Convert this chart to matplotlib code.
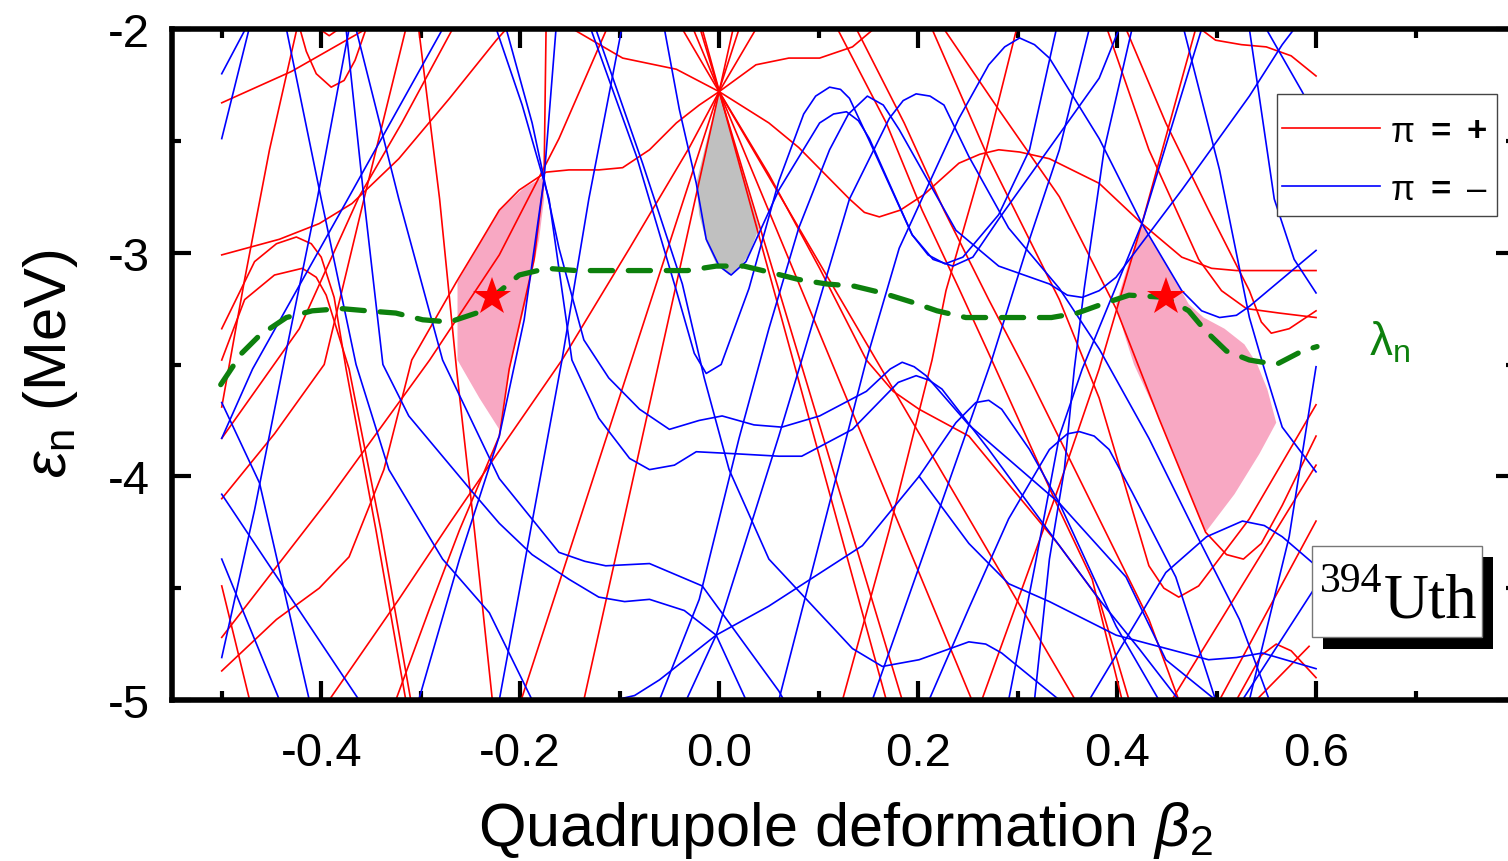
import matplotlib
matplotlib.use("Agg")
import matplotlib.pyplot as plt
from matplotlib.patches import Polygon, Rectangle
from matplotlib.lines import Line2D
from matplotlib.ticker import FixedLocator, FuncFormatter

plt.rcParams["font.family"] = ["Liberation Sans", "DejaVu Sans"]
plt.rcParams["mathtext.fontset"] = "custom"
plt.rcParams["mathtext.rm"] = "Liberation Sans"
plt.rcParams["mathtext.it"] = "Liberation Sans:italic"
plt.rcParams["axes.unicode_minus"] = False

# ── Neutron single-particle levels: (beta2, e_n [MeV]) ──────────────────
# positive parity
levels_pos = [
    [(-0.500, -2.33), (-0.430, -2.19), (-0.355, -2.00)],
    [(-0.500, -3.69), (-0.477, -3.12), (-0.452, -2.54), (-0.424, -1.99)],
    [(-0.422, -1.99), (-0.415, -2.10), (-0.405, -2.20), (-0.390, -2.26), (-0.377, -2.23),
     (-0.366, -2.14), (-0.355, -2.00)],
    [(-0.405, -1.99), (-0.392, -2.03), (-0.379, -1.99)],
    [(-0.500, -3.01), (-0.442, -2.94), (-0.402, -2.87), (-0.369, -2.78), (-0.322, -2.58),
     (-0.271, -2.31), (-0.224, -2.05), (-0.214, -2.00)],
    [(-0.500, -3.34), (-0.467, -3.04), (-0.445, -2.96), (-0.425, -2.93), (-0.410, -2.96),
     (-0.400, -3.02), (-0.387, -3.20), (-0.375, -3.52), (-0.345, -4.24), (-0.315, -5.00)],
    [(-0.500, -3.48), (-0.477, -3.21), (-0.447, -3.10), (-0.419, -3.07), (-0.405, -3.11),
     (-0.395, -3.19), (-0.372, -3.52), (-0.340, -4.24), (-0.310, -5.00)],
    [(-0.315, -2.00), (-0.357, -2.76), (-0.397, -3.50), (-0.447, -3.81), (-0.500, -4.10)],
    [(-0.302, -2.00), (-0.281, -2.76), (-0.264, -3.52), (-0.246, -4.24), (-0.228, -5.00)],
    [(-0.268, -2.00), (-0.319, -2.42), (-0.362, -2.75), (-0.422, -3.34), (-0.500, -3.83)],
    [(-0.500, -4.87), (-0.445, -4.64), (-0.402, -4.50), (-0.372, -4.36), (-0.337, -3.97),
     (-0.309, -3.48), (-0.264, -3.13), (-0.241, -2.96), (-0.221, -2.81), (-0.201, -2.72),
     (-0.174, -2.64), (-0.151, -2.63), (-0.121, -2.63), (-0.097, -2.62), (-0.070, -2.54),
     (-0.043, -2.42), (-0.020, -2.34), (0.000, -2.28), (0.025, -2.35), (0.050, -2.42),
     (0.080, -2.53), (0.131, -2.76), (0.146, -2.82), (0.161, -2.84), (0.182, -2.81),
     (0.206, -2.74), (0.241, -2.60), (0.262, -2.56), (0.281, -2.54), (0.302, -2.55),
     (0.332, -2.58), (0.382, -2.69), (0.425, -2.87), (0.465, -3.02), (0.495, -3.07),
     (0.520, -3.08), (0.600, -3.08)],
    [(-0.151, -1.99), (-0.097, -2.13), (-0.043, -2.18), (0.000, -2.28), (0.037, -2.16),
     (0.070, -2.13), (0.101, -2.13), (0.134, -2.08), (0.158, -1.99)],
    # spherical shell at -2.28 MeV fanning out
    [(-0.017, -2.00), (0.168, -5.00)],
    [(-0.019, -2.00), (0.184, -5.00)],
    [(-0.026, -2.00), (0.254, -5.00)],
    [(-0.037, -2.00), (0.358, -5.00)],
    [(0.014, -2.00), (-0.136, -5.00)],
    [(0.020, -2.00), (-0.199, -5.00)],
    [(0.000, -2.28), (0.050, -2.65), (0.101, -3.07), (0.148, -3.48), (0.175, -3.62),
     (0.201, -3.70), (0.251, -3.82), (0.342, -4.31), (0.382, -4.55), (0.412, -5.00)],
    [(-0.500, -4.72), (-0.392, -4.10), (-0.291, -3.48), (-0.221, -3.01), (-0.161, -2.49),
     (-0.113, -2.00)],
    [(-0.174, -2.00), (-0.176, -2.67), (-0.186, -3.03), (-0.211, -3.52), (-0.221, -3.82),
     (-0.261, -4.24), (-0.291, -4.59), (-0.325, -5.00)],
    [(-0.392, -5.00), (-0.322, -4.55), (-0.271, -4.21), (-0.231, -3.95), (-0.158, -3.48),
     (-0.090, -2.98), (-0.030, -2.53), (0.000, -2.28), (0.037, -2.00)],
    [(0.484, -2.00), (0.499, -2.05), (0.525, -2.07), (0.550, -2.08), (0.575, -2.12),
     (0.600, -2.21)],
    [(0.264, -5.00), (0.342, -4.04), (0.382, -3.52), (0.425, -2.87), (0.479, -2.00)],
    [(0.226, -2.00), (0.281, -2.36), (0.342, -2.75), (0.399, -3.25), (0.442, -3.74),
     (0.489, -4.25), (0.510, -4.35), (0.527, -4.37), (0.545, -4.30), (0.566, -4.13),
     (0.600, -3.82)],
    [(0.214, -2.00), (0.268, -2.55), (0.342, -3.21), (0.382, -3.65), (0.432, -4.40),
     (0.447, -4.50), (0.462, -4.54), (0.482, -4.49), (0.533, -4.19), (0.600, -3.68)],
    [(0.299, -2.00), (0.268, -2.55), (0.228, -3.17), (0.214, -3.48), (0.171, -4.24),
     (0.124, -5.00)],
    [(0.390, -2.00), (0.432, -2.54), (0.482, -3.03), (0.505, -3.17), (0.530, -3.25),
     (0.563, -3.27), (0.600, -3.29)],
    [(0.409, -2.00), (0.449, -2.42), (0.492, -2.81), (0.533, -3.17), (0.545, -3.31),
     (0.555, -3.36), (0.573, -3.34), (0.600, -3.26)],
    [(0.119, -2.00), (0.168, -2.42), (0.204, -2.81), (0.241, -3.16), (0.274, -3.48),
     (0.342, -4.15), (0.375, -4.46), (0.405, -5.00)],
    [(0.138, -2.00), (0.186, -2.42), (0.226, -2.81), (0.271, -3.21), (0.312, -3.56),
     (0.342, -3.83), (0.382, -4.19), (0.432, -4.64), (0.462, -5.00)],
    [(0.455, -5.00), (0.600, -3.95)],
    [(0.503, -5.00), (0.600, -4.20)],
    [(0.520, -5.00), (0.545, -4.80), (0.560, -4.75), (0.575, -4.78), (0.600, -4.90)],
    [(0.593, -4.76), (0.540, -5.00)],
    [(-0.500, -4.49), (-0.472, -5.00)],
]

# negative parity
levels_neg = [
    [(-0.500, -2.20), (-0.475, -1.99)],
    [(-0.500, -2.49), (-0.472, -1.99)],
    [(-0.435, -2.00), (-0.400, -2.76), (-0.365, -3.50), (-0.332, -3.97), (-0.278, -4.37),
     (-0.231, -4.61), (-0.188, -5.00)],
    [(-0.375, -2.00), (-0.357, -2.76), (-0.338, -3.50), (-0.312, -3.73), (-0.248, -4.07),
     (-0.221, -4.21), (-0.188, -4.35), (-0.151, -4.46), (-0.121, -4.54), (-0.095, -4.56),
     (-0.070, -4.55), (-0.035, -4.60), (-0.003, -4.71), (0.027, -5.00)],
    [(-0.365, -2.00), (-0.322, -2.76), (-0.278, -3.48), (-0.221, -4.01), (-0.161, -4.34),
     (-0.135, -4.38), (-0.114, -4.40), (-0.070, -4.39), (-0.017, -4.49), (0.060, -4.96),
     (0.065, -5.00)],
    [(-0.500, -4.81), (-0.467, -4.15), (-0.437, -3.48), (-0.404, -2.76), (-0.372, -2.00)],
    [(-0.278, -2.00), (-0.372, -2.75), (-0.469, -3.52), (-0.500, -3.83)],
    [(-0.500, -3.67), (-0.462, -4.03), (-0.412, -5.00)],
    [(-0.500, -4.08), (-0.362, -5.00)],
    [(-0.500, -4.37), (-0.442, -5.00)],
    [(-0.302, -5.00), (-0.261, -4.37), (-0.221, -3.82), (-0.196, -3.30), (-0.176, -2.67),
     (-0.164, -2.00)],
    [(-0.221, -5.00), (-0.158, -3.48), (-0.131, -2.76), (-0.098, -2.00)],
    [(-0.129, -2.00), (-0.083, -2.57), (-0.043, -3.17), (-0.025, -3.45), (-0.013, -3.54),
     (0.002, -3.50), (0.030, -3.16), (0.060, -2.68), (0.085, -2.38), (0.097, -2.30),
     (0.111, -2.26), (0.122, -2.27), (0.131, -2.31), (0.151, -2.50), (0.194, -2.92),
     (0.210, -3.01), (0.227, -3.05), (0.245, -3.02), (0.281, -2.83), (0.312, -2.54),
     (0.339, -2.00)],
    [(-0.055, -2.00), (-0.040, -2.36), (-0.023, -2.69), (-0.013, -2.94), (0.000, -3.06),
     (0.012, -3.10), (0.027, -3.04), (0.060, -2.72), (0.101, -2.42), (0.115, -2.38),
     (0.128, -2.37), (0.140, -2.41), (0.151, -2.49), (0.194, -2.92), (0.215, -3.03),
     (0.235, -3.06), (0.255, -3.02), (0.281, -2.85), (0.342, -2.47), (0.382, -2.22),
     (0.402, -2.00)],
    [(-0.060, -5.00), (-0.020, -4.55), (0.020, -3.83), (0.050, -3.34), (0.080, -2.89),
     (0.111, -2.54), (0.130, -2.38), (0.149, -2.30), (0.165, -2.34), (0.181, -2.45),
     (0.238, -2.90), (0.281, -3.06), (0.332, -3.14), (0.350, -3.19), (0.365, -3.20),
     (0.382, -3.17), (0.399, -3.11), (0.465, -2.72), (0.533, -2.30), (0.566, -2.07),
     (0.578, -2.00)],
    [(-0.033, -5.00), (-0.003, -4.71), (0.060, -3.82), (0.083, -3.48), (0.131, -2.76),
     (0.171, -2.40), (0.185, -2.32), (0.198, -2.29), (0.212, -2.30), (0.226, -2.34),
     (0.251, -2.57), (0.291, -2.89), (0.342, -3.16), (0.382, -3.43), (0.432, -3.83),
     (0.482, -4.28), (0.523, -4.64), (0.553, -5.00)],
    [(0.060, -5.00), (0.148, -3.48), (0.181, -2.98), (0.241, -2.40), (0.271, -2.16),
     (0.287, -2.08), (0.302, -2.04), (0.317, -2.07), (0.332, -2.13), (0.382, -2.49),
     (0.425, -2.87), (0.465, -3.17), (0.485, -3.26), (0.503, -3.29), (0.520, -3.28),
     (0.533, -3.24), (0.600, -2.99)],
    [(-0.224, -2.00), (-0.198, -2.34), (-0.171, -2.76), (-0.148, -3.48), (-0.121, -3.74),
     (-0.090, -3.92), (-0.070, -3.97), (-0.045, -3.95), (-0.023, -3.89), (0.020, -3.90),
     (0.060, -3.91), (0.083, -3.91), (0.134, -3.79), (0.180, -3.58), (0.198, -3.55),
     (0.211, -3.57), (0.224, -3.61), (0.271, -3.88), (0.342, -4.31), (0.382, -4.55),
     (0.422, -4.77), (0.462, -5.00)],
    [(-0.214, -2.00), (-0.188, -2.42), (-0.161, -2.98), (-0.136, -3.39), (-0.111, -3.56),
     (-0.080, -3.70), (-0.050, -3.79), (-0.020, -3.75), (0.003, -3.73), (0.035, -3.77),
     (0.063, -3.78), (0.101, -3.73), (0.148, -3.62), (0.172, -3.52), (0.184, -3.49),
     (0.196, -3.51), (0.208, -3.55), (0.251, -3.77), (0.342, -4.12), (0.409, -4.45),
     (0.449, -4.82), (0.499, -5.00)],
    [(-0.135, -5.00), (-0.114, -5.01), (-0.085, -4.98), (-0.060, -4.91), (-0.003, -4.71),
     (0.050, -4.58), (0.144, -4.31), (0.201, -4.00), (0.238, -3.76), (0.258, -3.67),
     (0.271, -3.66), (0.284, -3.70), (0.312, -3.88), (0.342, -4.12), (0.399, -4.67),
     (0.442, -5.00)],
    [(-0.124, -2.00), (-0.077, -2.60), (-0.037, -3.14), (-0.015, -3.56), (0.010, -3.97),
     (0.050, -4.37), (0.134, -4.77), (0.164, -4.85), (0.201, -4.82), (0.251, -4.74),
     (0.268, -4.75), (0.284, -4.79), (0.342, -5.00)],
    [(0.154, -5.00), (0.274, -3.48), (0.312, -2.94), (0.342, -2.54), (0.372, -2.00)],
    [(0.467, -2.00), (0.503, -2.63), (0.533, -3.29), (0.548, -3.52), (0.566, -3.78),
     (0.600, -3.98)],
    [(0.485, -2.00), (0.425, -2.87), (0.365, -3.52), (0.342, -3.82), (0.317, -4.41),
     (0.291, -5.00)],
    [(0.415, -2.00), (0.387, -2.54), (0.367, -3.16), (0.357, -3.52), (0.347, -3.97),
     (0.332, -4.37), (0.317, -5.00)],
    [(0.533, -2.00), (0.558, -2.76), (0.578, -3.03), (0.600, -3.18)],
    [(0.550, -2.00), (0.586, -2.28), (0.600, -2.40)],
    [(0.211, -5.00), (0.251, -4.59), (0.291, -4.19), (0.332, -3.88), (0.350, -3.81),
     (0.362, -3.80), (0.377, -3.82), (0.392, -3.88), (0.415, -4.07), (0.459, -4.45),
     (0.499, -5.00)],
    [(0.372, -5.00), (0.449, -4.43), (0.490, -4.27), (0.526, -4.20), (0.548, -4.22),
     (0.566, -4.27), (0.600, -4.40)],
    [(0.201, -4.00), (0.251, -4.30), (0.291, -4.48), (0.332, -4.56), (0.399, -4.71),
     (0.492, -4.82), (0.520, -4.81), (0.546, -4.79), (0.600, -4.86)],
    [(0.600, -3.51), (0.573, -4.27), (0.533, -5.00)],
    [(0.600, -4.49), (0.526, -5.00)],
]

# neutron Fermi level lambda_n
fermi_beta = [-0.501, -0.480, -0.462, -0.435, -0.409, -0.380, -0.354, -0.325, -0.298,
              -0.271, -0.244, -0.228, -0.201, -0.173, -0.144, -0.118, -0.088, -0.060,
              -0.032, -0.003, 0.025, 0.053, 0.080, 0.108, 0.136, 0.164, 0.193, 0.219,
              0.248, 0.276, 0.305, 0.334, 0.360, 0.385, 0.412, 0.449, 0.472, 0.489,
              0.510, 0.533, 0.560, 0.586, 0.601]
fermi_e = [-3.59, -3.45, -3.37, -3.29, -3.26, -3.25, -3.26, -3.27, -3.30,
           -3.31, -3.27, -3.20, -3.10, -3.07, -3.08, -3.08, -3.08, -3.08,
           -3.08, -3.06, -3.06, -3.09, -3.12, -3.14, -3.15, -3.18, -3.22, -3.26,
           -3.29, -3.29, -3.29, -3.29, -3.27, -3.23, -3.19, -3.20, -3.26, -3.35,
           -3.44, -3.48, -3.50, -3.44, -3.42]

# shell-gap minima
gap_beta = [-0.228, 0.449]
gap_e = [-3.20, -3.20]

# shaded gaps
gap_oblate = [(-0.263, -3.13), (-0.221, -2.81), (-0.196, -2.71), (-0.176, -2.66),
              (-0.176, -2.76), (-0.181, -2.94), (-0.191, -3.16), (-0.211, -3.52),
              (-0.221, -3.79), (-0.241, -3.65), (-0.263, -3.48)]
gap_prolate = [(0.425, -2.87), (0.412, -3.04), (0.399, -3.23), (0.407, -3.36),
               (0.417, -3.50), (0.442, -3.74), (0.467, -4.01), (0.489, -4.25),
               (0.518, -4.08), (0.543, -3.90), (0.560, -3.76), (0.551, -3.61),
               (0.541, -3.50), (0.528, -3.41), (0.508, -3.34), (0.487, -3.29),
               (0.472, -3.23), (0.452, -3.07), (0.437, -2.96)]
gap_spherical = [(0.000, -2.28), (-0.012, -2.49), (-0.023, -2.69), (-0.020, -2.83),
                 (-0.013, -2.95), (-0.003, -3.05), (0.010, -3.10), (0.020, -3.07),
                 (0.030, -3.01), (0.040, -2.89), (0.027, -2.69), (0.013, -2.49)]

x_major = [-0.4, -0.2, 0.0, 0.2, 0.4, 0.6]
x_minor = [-0.5, -0.3, -0.1, 0.1, 0.3, 0.5, 0.7]
y_major = [-5, -4, -3, -2]
y_minor = [-4.5, -3.5, -2.5]

RED = "#ff0000"
BLUE = "#0000ff"
GREEN = "#0d800d"

W, H = 1508, 862
fig = plt.figure(figsize=(W / 100, H / 100), dpi=100)
ax = fig.add_axes([172 / W, 1 - 701 / H, 1343 / W, 671 / H])

ax.add_patch(Polygon(gap_oblate, closed=True, facecolor="#f8a8c3", edgecolor="none", zorder=1))
ax.add_patch(Polygon(gap_prolate, closed=True, facecolor="#f8a8c3", edgecolor="none", zorder=1))
ax.add_patch(Polygon(gap_spherical, closed=True, facecolor="#c0c0c0", edgecolor="none", zorder=1))

for pts in levels_pos:
    xs, ys = zip(*pts)
    ax.plot(xs, ys, color=RED, lw=1.2, zorder=2)
for pts in levels_neg:
    xs, ys = zip(*pts)
    ax.plot(xs, ys, color=BLUE, lw=1.2, zorder=2)

ax.plot(fermi_beta, fermi_e, color=GREEN, lw=3.8, linestyle=(0, (4.2, 3.0)),
        dash_capstyle="round", zorder=3)
ax.plot(gap_beta, gap_e, "*", color=RED, ms=29, mew=0, zorder=4)

ax.set_xlim(-0.55, 0.8)
ax.set_ylim(-5, -2)
ax.xaxis.set_major_locator(FixedLocator(x_major))
ax.xaxis.set_minor_locator(FixedLocator(x_minor))
ax.yaxis.set_major_locator(FixedLocator(y_major))
ax.yaxis.set_minor_locator(FixedLocator(y_minor))
ax.xaxis.set_major_formatter(FuncFormatter(lambda v, p: f"{v:.1f}"))
ax.yaxis.set_major_formatter(FuncFormatter(lambda v, p: f"{v:.0f}"))
ax.tick_params(which="both", direction="in", top=True, right=True, width=3)
ax.tick_params(which="major", length=14, labelsize=34)
ax.tick_params(axis="x", which="major", pad=22)
ax.tick_params(axis="y", which="major", pad=16)
ax.tick_params(which="minor", length=6.5)
for sp in ax.spines.values():
    sp.set_linewidth(4)

fig.text(845 / W, 1 - 846 / H, r"Quadrupole deformation $\beta_2$",
         ha="center", va="baseline", fontsize=44)
fig.text(50 / W, 1 - 364 / H, r"$\varepsilon_\mathregular{n}$ (MeV)", rotation=90,
         ha="center", va="center", fontsize=43)

fig.text(1369 / W, 1 - 356 / H, r"$\mathregular{\lambda_n}$", color=GREEN,
         fontsize=33, ha="left", va="baseline")

# parity key
fig.add_artist(Rectangle((1277 / W, 1 - 217 / H), 220 / W, 122 / H,
                         transform=fig.transFigure, facecolor="white",
                         edgecolor="#444444", lw=1.0, zorder=10))
for yy, col, sign in [(129, RED, "+"), (187, BLUE, "\u2013")]:
    fig.add_artist(Line2D([1282 / W, 1380 / W], [1 - yy / H] * 2, color=col, lw=1.2,
                          transform=fig.transFigure, zorder=11))
    fig.text(1403 / W, 1 - (yy + 3) / H, "\u03c0", fontsize=25, ha="center", va="center", zorder=12)
    fig.text(1441 / W, 1 - (yy + 3) / H, "=", fontsize=25, fontweight="bold",
             ha="center", va="center", zorder=12)
    fig.text(1477 / W, 1 - (yy + 3) / H, sign, fontsize=25,
             fontweight="bold" if sign == "+" else "normal",
             ha="center", va="center", zorder=12)

# nucleus label with drop shadow
fig.add_artist(Rectangle((1323 / W, 1 - 650 / H), 170 / W, 92 / H,
                         transform=fig.transFigure, facecolor="black",
                         edgecolor="none", zorder=10))
fig.add_artist(Rectangle((1312 / W, 1 - 638 / H), 170 / W, 91 / H,
                         transform=fig.transFigure, facecolor="white",
                         edgecolor="#777777", lw=1.0, zorder=11))
fig.text(1320 / W, 1 - 592 / H, "394", family="Liberation Serif", fontsize=30,
         ha="left", va="baseline", zorder=12)
fig.text(1384 / W, 1 - 618 / H, "Uth", family="Liberation Serif", fontsize=45,
         ha="left", va="baseline", zorder=12)

fig.savefig("out.png", dpi=100)
